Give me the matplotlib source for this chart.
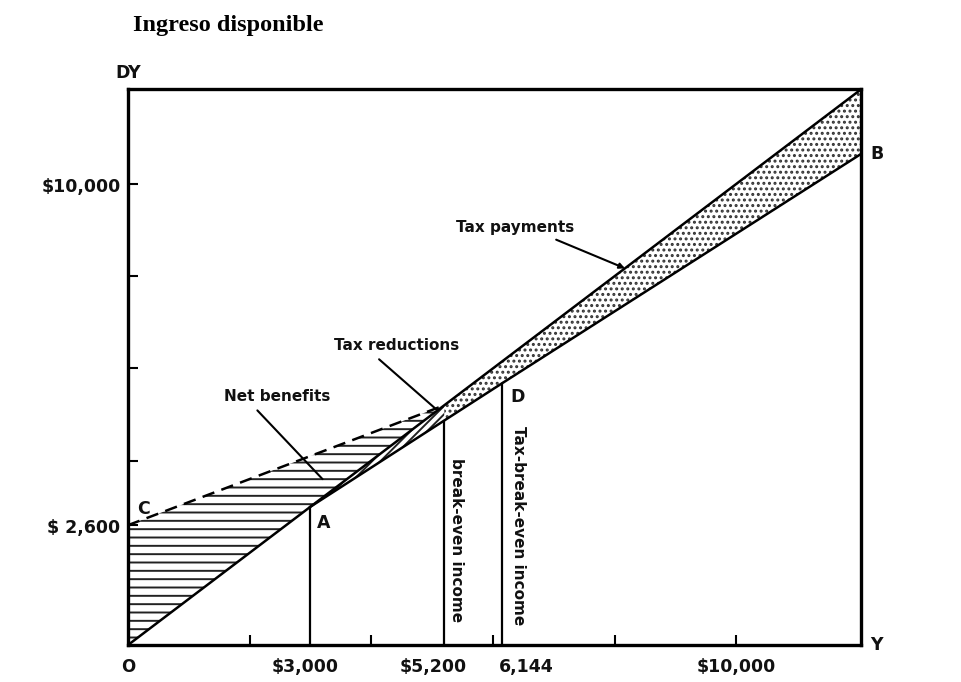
import numpy as np
import matplotlib
matplotlib.use("Agg")
import matplotlib.pyplot as plt
from matplotlib.transforms import offset_copy

# ---- data ----
x_max = 12050
y_max = 12050
guarantee = 2600          # C
breakeven = 5200          # NIT break-even income
exemption = 3000          # A
tax_breakeven = 6144      # D
nit_x = [0, 5200]
nit_y = [2600, 5200]
tax_x = [3000, 6144, 12050]
tax_y = [3000, 5672, 10650]
x_minor_ticks = [2000, 4000, 6000, 8000, 10000]
y_minor_ticks = [4000, 6000, 8000, 10000]
x_label_pos = [3000, 5200, 6144, 10000]
x_label_txt = ["$3,000", "$5,200", "6,144", "$10,000"]
y_label_pos = [2600, 10000]
y_label_txt = ["$ 2,600", "$10,000"]

# label nudges in points (style only)
x_label_nudge = [-4, -8, 18, 0]

plt.rcParams['hatch.linewidth'] = 1.4
fig = plt.figure(figsize=(9.61, 6.82), dpi=100)
ax = fig.add_axes([0.133, 0.054, 0.763, 0.815])
ax.set_xlim(0, x_max)
ax.set_ylim(0, y_max)

bold = dict(fontweight='bold', family='DejaVu Sans', color='#111111')

# 45-degree line
ax.plot([0, x_max], [0, y_max], color='black', lw=1.8, zorder=4)
# NIT dashed line
ax.plot(nit_x, nit_y, color='black', lw=1.8, ls=(0, (5, 3)), zorder=4)
# positive tax line
ax.plot(tax_x, tax_y, color='black', lw=1.8, zorder=4)

# Net benefits (horizontal hatch)
ax.fill_between(nit_x, [nit_x[0], nit_x[1]], nit_y, facecolor='none',
                edgecolor='#222222', hatch='--', lw=0, zorder=2)
# Tax reductions (diagonal hatch)
tax_at_be = np.interp(breakeven, tax_x, tax_y)
ax.fill_between([exemption, breakeven], [exemption, breakeven], [exemption, tax_at_be],
                facecolor='none', edgecolor='#222222', hatch='////', lw=0, zorder=2)
# Tax payments (dotted)
ax.fill_between([breakeven] + tax_x[1:], [breakeven] + tax_x[1:],
                [tax_at_be] + tax_y[1:], facecolor='none', edgecolor='#333333',
                hatch='...', lw=0, zorder=2)

# vertical lines
ax.plot([exemption, exemption], [0, exemption], color='black', lw=1.6)
ax.plot([breakeven, breakeven], [0, tax_at_be], color='black', lw=1.6)
ax.plot([tax_breakeven, tax_breakeven], [0, tax_y[1]], color='black', lw=1.6)

# spines
for s in ax.spines.values():
    s.set_linewidth(2.4)
    s.set_color('black')

# ticks
ax.set_xticks(x_minor_ticks)
ax.set_xticklabels([])
ax.set_yticks(y_minor_ticks + [guarantee])
ax.set_yticklabels([])
ax.tick_params(axis='both', direction='in', length=7, width=1.5)

for xp, t, dx in zip(x_label_pos, x_label_txt, x_label_nudge):
    tr = offset_copy(ax.transData, fig=fig, x=dx, y=0, units='points')
    ax.text(xp, -280, t, ha='center', va='top', fontsize=12.5, transform=tr, **bold)
for yp, t in zip(y_label_pos, y_label_txt):
    ax.text(-120, yp - 60, t, ha='right', va='center', fontsize=12.5, **bold)

ax.text(0, -280, "O", ha='center', va='top', fontsize=12, **bold)
ax.text(x_max + 150, 0, "Y", ha='left', va='center', fontsize=12.5, **bold)
ax.text(0, y_max + 150, "DY", ha='center', va='bottom', fontsize=12.5, **bold)
ax.text(150, guarantee + 150, "C", ha='left', va='bottom', fontsize=12.5, **bold)
ax.text(exemption + 100, exemption - 150, "A", ha='left', va='top', fontsize=12.5, **bold)
ax.text(tax_breakeven + 150, tax_y[1] - 300, "D", ha='left', va='center', fontsize=12.5, **bold)
ax.text(x_max + 150, tax_y[2], "B", ha='left', va='center', fontsize=12.5, **bold)

ax.text(breakeven + 200, 4050, "break-even income", rotation=-90, ha='center',
        va='top', fontsize=11, **bold)
ax.text(tax_breakeven + 270, 4750, "Tax-break-even income", rotation=-90, ha='center',
        va='top', fontsize=11, **bold)

ax.annotate("Net benefits", xy=(3200, 3600), xytext=(2460, 5400),
            ha='center', va='center', fontsize=11,
            arrowprops=dict(arrowstyle='-', color='black', lw=1.5, shrinkA=4,
                            shrinkB=0, relpos=(0.25, 0.0)), **bold)
ax.annotate("Tax reductions", xy=(5080, 5100), xytext=(4420, 6500),
            ha='center', va='center', fontsize=11,
            arrowprops=dict(arrowstyle='-', color='black', lw=1.5, shrinkA=4,
                            shrinkB=0, relpos=(0.3, 0.0)), **bold)
ax.annotate("Tax payments", xy=(8170, 8170), xytext=(6360, 9060),
            ha='center', va='center', fontsize=11,
            arrowprops=dict(arrowstyle='-|>', color='black', lw=1.5,
                            mutation_scale=8, shrinkA=4, shrinkB=0,
                            relpos=(0.75, 0.0)), **bold)

fig.text(0.138, 0.963, "Ingreso disponible", ha='left', va='center',
         fontsize=17.5, fontweight='bold', family='Liberation Serif')

fig.savefig("out.png", dpi=100)
